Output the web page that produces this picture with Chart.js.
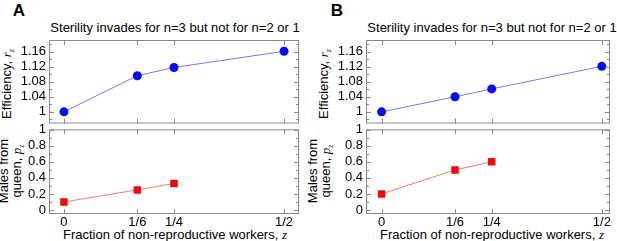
<!DOCTYPE html>
<html>
<head>
<meta charset="utf-8">
<script src="https://cdn.jsdelivr.net/npm/chart.js@4"></script>
<style>
  body { margin: 0; background: #fff; }
  #wrap { position: relative; width: 617px; height: 241px; overflow: hidden; font-family: "Liberation Sans", Arial, sans-serif; color: #000; }
  .box { position: absolute; }
  .txt { position: absolute; white-space: nowrap; font-size: 13px; line-height: 13px; transform: translate(-50%, -50%); }
  .rot { transform: translate(-50%, -50%) rotate(-90deg); text-align: center; }
  .letter { position: absolute; font-size: 17px; font-weight: bold; transform: translate(-50%, -50%); }
  .sym { font-family: "Liberation Serif", serif; font-style: italic; font-size: 13px; }
  .sub { font-family: "Liberation Serif", serif; font-style: italic; font-size: 8px; vertical-align: -3px; }
</style>
</head>
<body>
<div id="wrap">
  <div class="letter" style="left:19px; top:11px;">A</div>
  <div class="letter" style="left:337px; top:11px;">B</div>
  <div class="txt" style="left:175px; top:27px;">Sterility invades for n=3 but not for n=2 or 1</div>
  <div class="txt" style="left:492px; top:27px;">Sterility invades for n=3 but not for n=2 or 1</div>
  <div class="txt rot" style="left:9px; top:84px;">Efficiency, <span class="sym">r</span><span class="sub">z</span></div>
  <div class="txt rot" style="left:326px; top:84px;">Efficiency, <span class="sym">r</span><span class="sub">z</span></div>
  <div class="txt rot" style="left:12px; top:171px;">Males from<br>queen, <span class="sym">p</span><span class="sub">z</span></div>
  <div class="txt rot" style="left:321px; top:171px;">Males from<br>queen, <span class="sym">p</span><span class="sub">z</span></div>
  <div class="txt" style="left:175px; top:234px;">Fraction of non-reproductive workers, <span class="sym">z</span></div>
  <div class="txt" style="left:492px; top:234px;">Fraction of non-reproductive workers, <span class="sym">z</span></div>

  <div class="box" style="left:0; top:0; width:310px; height:128px;"><canvas id="topA"></canvas></div>
  <div class="box" style="left:0; top:124px; width:310px; height:117px;"><canvas id="botA"></canvas></div>
  <div class="box" style="left:310px; top:0; width:307px; height:128px;"><canvas id="topB"></canvas></div>
  <div class="box" style="left:310px; top:124px; width:307px; height:117px;"><canvas id="botB"></canvas></div>
</div>
<script>
// fraction of non-reproductive workers z
const zEff = [0, 1/6, 1/4, 1/2];
const zMales = [0, 1/6, 1/4];
const xTickValues = [0, 1/6, 1/4, 1/2];
const xTickLabels = ["0", "1/6", "1/4", "1/2"];

// efficiency r_z and males from queen p_z
const effA = [1, 1.096, 1.118, 1.161];
const malesA = [0.1, 0.25, 0.33];
const effB = [1, 1.04, 1.061, 1.121];
const malesB = [0.2, 0.5, 0.6];

const effTicks = [1, 1.04, 1.08, 1.12, 1.16];
const effMinor = [0.98, 1.02, 1.06, 1.10, 1.14, 1.18];
const malesTicks = [0, 0.2, 0.4, 0.6, 0.8, 1];
const malesMinor = [0.1, 0.3, 0.5, 0.7, 0.9];

Chart.defaults.font.family = '"Liberation Sans", Arial, sans-serif';
Chart.defaults.font.size = 13;
Chart.defaults.color = '#000';

// plot frame with inward ticks on all four sides
const frameTicks = {
    id: 'frameTicks',
    afterDraw(chart, args, opts) {
        const ctx = chart.ctx;
        const a = chart.chartArea;
        const xs = chart.scales.x, ys = chart.scales.y;
        ctx.save();
        ctx.strokeStyle = '#8a8a8a';
        ctx.lineWidth = 1;
        ctx.strokeRect(a.left + 0.5, a.top + 0.5, a.width - 1, a.height - 1);
        ctx.beginPath();
        opts.xTicks.forEach(function(v) {
            const px = Math.round(xs.getPixelForValue(v)) + 0.5;
            ctx.moveTo(px, a.top); ctx.lineTo(px, a.top + 5);
            ctx.moveTo(px, a.bottom); ctx.lineTo(px, a.bottom - 5);
        });
        opts.yMajor.forEach(function(v) {
            const py = Math.round(ys.getPixelForValue(v)) + 0.5;
            ctx.moveTo(a.left, py); ctx.lineTo(a.left + 5, py);
            ctx.moveTo(a.right, py); ctx.lineTo(a.right - 5, py);
        });
        opts.yMinor.forEach(function(v) {
            if (v < ys.min || v > ys.max) return;
            const py = Math.round(ys.getPixelForValue(v)) + 0.5;
            ctx.moveTo(a.left, py); ctx.lineTo(a.left + 3, py);
            ctx.moveTo(a.right, py); ctx.lineTo(a.right - 3, py);
        });
        ctx.stroke();
        ctx.restore();
    }
};

function toPoints(xs, ys) {
    return ys.map(function(y, i) { return { x: xs[i], y: y }; });
}

function makeChart(id, opt) {
    return new Chart(document.getElementById(id), {
        type: 'line',
        data: {
            datasets: [{
                data: toPoints(opt.xs, opt.ys),
                borderColor: opt.line,
                borderWidth: 1,
                backgroundColor: opt.marker,
                pointBackgroundColor: opt.marker,
                pointBorderWidth: 0,
                pointStyle: opt.pointStyle,
                pointRadius: opt.radius,
                tension: 0
            }]
        },
        options: {
            responsive: true,
            maintainAspectRatio: false,
            animation: false,
            events: [],
            layout: { padding: opt.padding },
            plugins: {
                legend: { display: false },
                tooltip: { enabled: false },
                frameTicks: { xTicks: xTickValues, yMajor: opt.yTicks, yMinor: opt.yMinor }
            },
            scales: {
                x: {
                    type: 'linear',
                    display: opt.showX,
                    min: opt.xMin,
                    max: opt.xMax,
                    grid: { display: false, drawTicks: false },
                    border: { display: false },
                    ticks: {
                        padding: 1,
                        maxRotation: 0,
                        autoSkip: false,
                        callback: function(v) {
                            const i = xTickValues.indexOf(v);
                            return i >= 0 ? xTickLabels[i] : '';
                        }
                    },
                    afterBuildTicks: function(s) { s.ticks = xTickValues.map(function(v) { return { value: v }; }); },
                    afterFit: function(s) {
                        s.height = opt.showX ? 27 : 0;
                        s.paddingLeft = 0; s.paddingRight = 0;
                    }
                },
                y: {
                    min: opt.yMin,
                    max: opt.yMax,
                    grid: { display: false, drawTicks: false },
                    border: { display: false },
                    ticks: {
                        padding: 3,
                        autoSkip: false,
                        callback: function(v) { return String(+v.toFixed(2)); }
                    },
                    afterBuildTicks: function(s) { s.ticks = opt.yTicks.map(function(v) { return { value: v }; }); },
                    afterFit: function(s) { s.width = opt.yWidth; s.paddingTop = 0; s.paddingBottom = 0; }
                }
            }
        },
        plugins: [frameTicks]
    });
}

const blueLine = '#7878ec', blueDot = '#0a0aee';
const redLine = '#ef7c7c', redDot = '#ee0a0a';

makeChart('topA', { xs: zEff, ys: effA, line: blueLine, marker: blueDot, pointStyle: 'circle', radius: 4.5,
    showX: false, xMin: -0.034, xMax: 0.534, yMin: 0.969, yMax: 1.191, yTicks: effTicks, yMinor: effMinor,
    yWidth: 49, padding: { top: 40, right: 11, bottom: 4, left: 0 } });
makeChart('botA', { xs: zMales, ys: malesA, line: redLine, marker: redDot, pointStyle: 'rect', radius: 5.3,
    showX: true, xMin: -0.034, xMax: 0.534, yMin: -0.05, yMax: 1.006, yTicks: malesTicks, yMinor: malesMinor,
    yWidth: 49, padding: { top: 5, right: 11, bottom: 0, left: 0 } });
makeChart('topB', { xs: zEff, ys: effB, line: blueLine, marker: blueDot, pointStyle: 'circle', radius: 4.5,
    showX: false, xMin: -0.0355, xMax: 0.5185, yMin: 0.969, yMax: 1.191, yTicks: effTicks, yMinor: effMinor,
    yWidth: 56, padding: { top: 40, right: 7, bottom: 4, left: 0 } });
makeChart('botB', { xs: zMales, ys: malesB, line: redLine, marker: redDot, pointStyle: 'rect', radius: 5.3,
    showX: true, xMin: -0.0355, xMax: 0.5185, yMin: -0.05, yMax: 1.006, yTicks: malesTicks, yMinor: malesMinor,
    yWidth: 56, padding: { top: 5, right: 7, bottom: 0, left: 0 } });
</script>
</body>
</html>
